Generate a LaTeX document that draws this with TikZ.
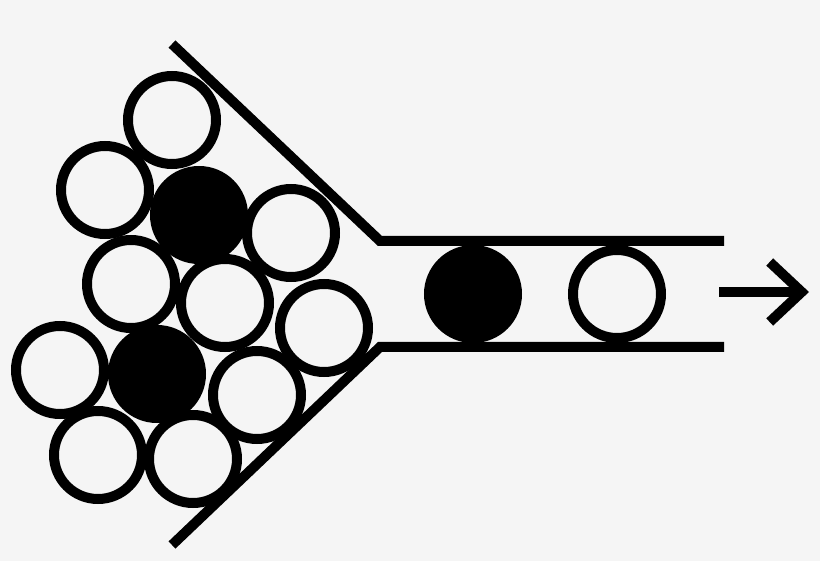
\documentclass[tikz,border=0pt]{standalone}
\usetikzlibrary{positioning,arrows.meta}
\definecolor{paper}{RGB}{245,245,245}
\tikzset{
  ball/.style={circle,draw,line width=10pt,inner sep=0pt,minimum size=88pt},
  grain/.style={ball,fill=black},
  wall/.style={line width=10pt},
}

\begin{document}
\begin{tikzpicture}[x=1pt,y=-1pt,>={Straight Barb[length=32pt,width=60pt]},line join=miter]
%%
  \fill [paper] (0,0) rectangle (820,561);
  \useasboundingbox (0,0) rectangle (820,561);

  % funnel walls
  \coordinate (top_end) at (172,44);
  \coordinate (top_bend) at (380,241);
  \coordinate (top_exit) at (724,241);
  \coordinate (bot_end) at (172,545);
  \coordinate (bot_bend) at (380,347);
  \coordinate (bot_exit) at (724,347);

  \draw [wall] (top_end) -- (top_bend) -- (top_exit);
  \draw [wall] (bot_end) -- (bot_bend) -- (bot_exit);

  % balls in the hopper
  \node (ball_1) at (172,120) [ball] {};
  \node (ball_2) at (105,190) [ball] {};
  \node (ball_3) at (199,215) [grain] {};
  \node (ball_4) at (291,233) [ball] {};
  \node (ball_5) at (131,284) [ball] {};
  \node (ball_6) at (225,303) [ball] {};
  \node (ball_7) at (324,328) [ball] {};
  \node (ball_8) at (60,370) [ball] {};
  \node (ball_9) at (157,374) [grain] {};
  \node (ball_10) at (257,395) [ball] {};
  \node (ball_11) at (98,455) [ball] {};
  \node (ball_12) at (193,459) [ball] {};

  % balls in the tube
  \node (ball_13) at (473,294) [grain] {};
  \node (ball_14) at (617,294) [ball] {};

  \coordinate (flow_start) at (719,292);
  \coordinate (flow_tip) at (809,292);
  \draw [wall,->] (flow_start) -- (flow_tip);
%
\end{tikzpicture}
\end{document}
